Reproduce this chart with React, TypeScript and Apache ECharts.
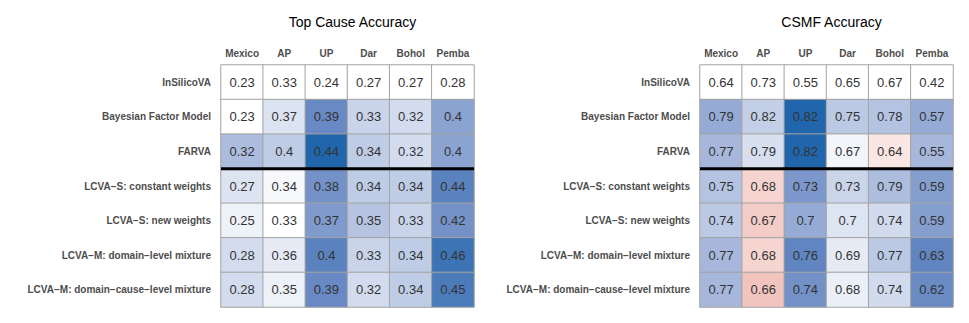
import React, { useEffect, useRef } from "react";
import * as echarts from "echarts";

const columns = ["Mexico", "AP", "UP", "Dar", "Bohol", "Pemba"];
const methods = [
  "InSilicoVA",
  "Bayesian Factor Model",
  "FARVA",
  "LCVA−S: constant weights",
  "LCVA−S: new weights",
  "LCVA−M: domain−level mixture",
  "LCVA−M: domain−cause−level mixture",
];

const topCauseValues = [
  [0.23, 0.33, 0.24, 0.27, 0.27, 0.28],
  [0.23, 0.37, 0.39, 0.33, 0.32, 0.4],
  [0.32, 0.4, 0.44, 0.34, 0.32, 0.4],
  [0.27, 0.34, 0.38, 0.34, 0.34, 0.44],
  [0.25, 0.33, 0.37, 0.35, 0.33, 0.42],
  [0.28, 0.36, 0.4, 0.33, 0.34, 0.46],
  [0.28, 0.35, 0.39, 0.32, 0.34, 0.45],
];

const csmfValues = [
  [0.64, 0.73, 0.55, 0.65, 0.67, 0.42],
  [0.79, 0.82, 0.82, 0.75, 0.78, 0.57],
  [0.77, 0.79, 0.82, 0.67, 0.64, 0.55],
  [0.75, 0.68, 0.73, 0.73, 0.79, 0.59],
  [0.74, 0.67, 0.7, 0.7, 0.74, 0.59],
  [0.77, 0.68, 0.76, 0.69, 0.77, 0.63],
  [0.77, 0.66, 0.74, 0.68, 0.74, 0.62],
];

const panelTitles = ["Top Cause Accuracy", "CSMF Accuracy"];
const separatorAfterRow = 2;

const divergingColors = [
  "#b2182b",
  "#cd5a57",
  "#e29189",
  "#f3c6c0",
  "#ffffff",
  "#d3dcee",
  "#a2b4da",
  "#6889c3",
  "#2166ac",
];

function buildData(values: number[][]) {
  const base = values[0];
  const out: any[] = [];
  let maxAbs = 0;
  values.forEach((row, r) => {
    row.forEach((v, c) => {
      const d = v - base[c];
      maxAbs = Math.max(maxAbs, Math.abs(d));
      out.push([c, r, v, d]);
    });
  });
  return { data: out, maxAbs };
}

export default function App() {
  const ref = useRef<HTMLDivElement>(null);

  useEffect(() => {
    if (!ref.current) return;
    const chart = echarts.init(ref.current, null, { renderer: "svg" });
    const panels = [buildData(topCauseValues), buildData(csmfValues)];
    const gridLefts = [221, 700];
    const font = "'Liberation Sans', Arial, Helvetica, sans-serif";

    const option: any = {
      animation: false,
      textStyle: { fontFamily: font },
      title: panelTitles.map((t, i) => ({
        text: t,
        left: gridLefts[i] + 126.5,
        textAlign: "center",
        top: 10,
        textStyle: { fontSize: 14, fontWeight: "normal", color: "#000", fontFamily: font },
      })),
      grid: gridLefts.map((l) => ({ left: l, top: 65, width: 253, height: 242 })),
      xAxis: gridLefts.map((_, i) => ({
        type: "category",
        gridIndex: i,
        data: columns,
        position: "top",
        axisLine: { show: false },
        axisTick: { show: false },
        splitLine: { show: false },
        axisLabel: {
          interval: 0,
          fontSize: 10,
          fontWeight: "bold",
          color: "#4d4d4d",
          margin: 7,
          fontFamily: font,
        },
      })),
      yAxis: gridLefts.map((_, i) => ({
        type: "category",
        gridIndex: i,
        data: methods,
        inverse: true,
        axisLine: { show: false },
        axisTick: { show: false },
        splitLine: { show: false },
        axisLabel: {
          interval: 0,
          fontSize: 10,
          fontWeight: "bold",
          color: "#4d4d4d",
          margin: 10,
          fontFamily: font,
        },
      })),
      visualMap: panels.map((p, i) => ({
        show: false,
        type: "continuous",
        seriesIndex: i,
        dimension: 3,
        min: -p.maxAbs,
        max: p.maxAbs,
        inRange: { color: divergingColors },
      })),
      series: panels.map((p, i) => ({
        type: "heatmap",
        xAxisIndex: i,
        yAxisIndex: i,
        data: p.data,
        itemStyle: { borderColor: "#a3a3a3", borderWidth: 1 },
        emphasis: { disabled: true },
        label: {
          show: true,
          fontSize: 13,
          color: "#333",
          fontFamily: font,
          formatter: (params: any) => String(params.value[2]),
        },
      })),
    };
    chart.setOption(option);

    const lines: any[] = [];
    gridLefts.forEach((_, i) => {
      const a = chart.convertToPixel({ gridIndex: i }, [0, separatorAfterRow]) as number[];
      const b = chart.convertToPixel({ gridIndex: i }, [columns.length - 1, separatorAfterRow + 1]) as number[];
      const colW = columns.length > 1 ? (b[0] - a[0]) / (columns.length - 1) : 0;
      const y = (a[1] + b[1]) / 2;
      lines.push({
        type: "line",
        shape: { x1: a[0] - colW / 2, y1: y, x2: b[0] + colW / 2, y2: y },
        style: { stroke: "#000", lineWidth: 3 },
        z: 100,
      });
    });
    chart.setOption({ graphic: lines });

    return () => chart.dispose();
  }, []);

  return (
    <div
      ref={ref}
      style={{ position: "fixed", left: 0, top: 0, width: 969, height: 323, background: "#fff" }}
    />
  );
}
